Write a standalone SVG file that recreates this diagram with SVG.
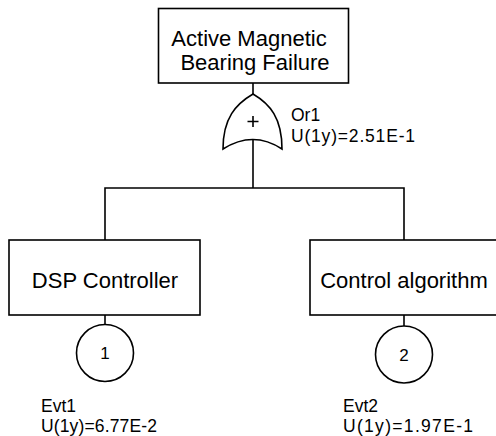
<svg xmlns="http://www.w3.org/2000/svg" width="496" height="436" viewBox="0 0 496 436">
<style>
.box{fill:#fff;stroke:#000;stroke-width:1.6}
.ln{fill:none;stroke:#000;stroke-width:1.6}
.t{font-family:"Liberation Sans",Arial,sans-serif;fill:#000}
.big{font-size:22px;text-anchor:middle}
.lab{font-size:17.5px}
.num{font-size:17px;text-anchor:middle}
</style>
<rect width="496" height="436" fill="#fff"/>
<g id="connectors">
<line class="ln" x1="253" y1="83" x2="253" y2="94"/>
<polyline class="ln" points="253,139.5 253,188"/>
<polyline class="ln" points="105,240 105,188 404,188 404,240"/>
<line class="ln" x1="105" y1="315" x2="105" y2="324.5"/>
<line class="ln" x1="404" y1="315" x2="404" y2="326"/>
</g>
<g id="top">
<rect class="box" x="158.5" y="8.5" width="190" height="74.5"/>
<text class="t big" x="249" y="46">Active Magnetic</text>
<text class="t big" x="255" y="70">Bearing Failure</text>
</g>
<g id="or1">
<path class="box" d="M253,94 C236,104 223,118 223,149 Q253,130 282,149 C282,118 270,104 253,94 Z"/>
<path class="ln" d="M247.5,121.5 H258.5 M253,116 V127"/>
<text class="t lab" x="291" y="121">Or1</text>
<text class="t lab" x="291" y="141.5" textLength="124" lengthAdjust="spacing">U(1y)=2.51E-1</text>
</g>
<g id="dsp">
<rect class="box" x="9" y="240" width="191" height="75"/>
<text class="t big" x="105" y="288">DSP Controller</text>
</g>
<g id="ctrl">
<rect class="box" x="310" y="240" width="190" height="75"/>
<text class="t big" x="404" y="288">Control algorithm</text>
</g>
<g id="evt1">
<circle class="box" cx="105" cy="353" r="28.5"/>
<text class="t num" x="105" y="359">1</text>
<text class="t lab" x="41" y="412">Evt1</text>
<text class="t lab" x="41" y="432" textLength="116" lengthAdjust="spacing">U(1y)=6.77E-2</text>
</g>
<g id="evt2">
<circle class="box" cx="404" cy="354.5" r="28.5"/>
<text class="t num" x="404" y="360.5">2</text>
<text class="t lab" x="343" y="412">Evt2</text>
<text class="t lab" x="343" y="432" textLength="130" lengthAdjust="spacing">U(1y)=1.97E-1</text>
</g>
</svg>
